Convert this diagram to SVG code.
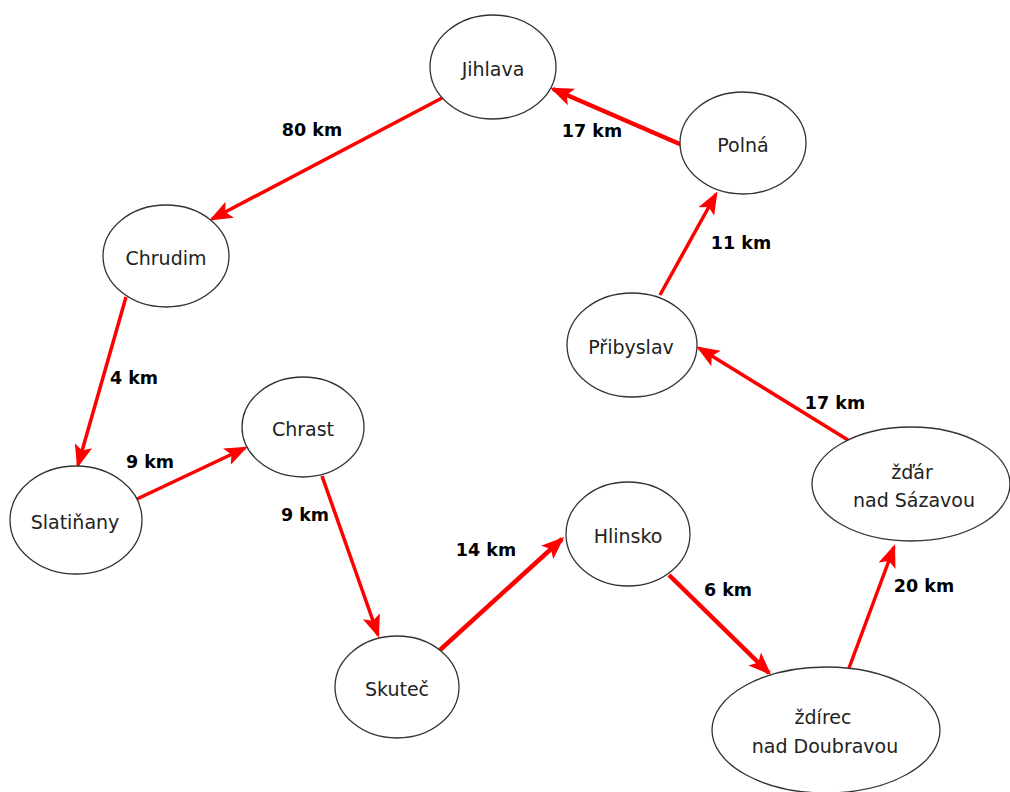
<svg xmlns="http://www.w3.org/2000/svg" width="1010" height="792" viewBox="0 0 1010 792">
<style>
.node ellipse{fill:#fff;stroke:#333;stroke-width:1.3}
.node text{font-family:"DejaVu Sans",Verdana,sans-serif;font-size:19px;fill:#222;text-anchor:middle;dominant-baseline:central}
.edge{stroke:#ff0000;stroke-width:3.5;fill:none;marker-end:url(#ah)}
.thick{stroke-width:4.5}
.lbl{font-family:"DejaVu Sans",Verdana,sans-serif;font-size:17.5px;font-weight:bold;fill:#000;text-anchor:middle;dominant-baseline:central}
</style>
<defs>
<marker id="ah" markerUnits="userSpaceOnUse" markerWidth="24" markerHeight="20" viewBox="0 0 24 20" refX="20" refY="10" orient="auto">
<path d="M0,1 L23,10 L0,19 L5,10 Z" fill="#ff0000"/>
</marker>
</defs>
<rect width="1010" height="792" fill="#fff"/>
<g id="connectors">
<line class="edge" x1="442" y1="98" x2="212" y2="219"/>
<line class="edge thick" x1="682" y1="145" x2="553" y2="89"/>
<line class="edge" x1="660" y1="295" x2="716" y2="194"/>
<line class="edge" x1="126" y1="297" x2="78" y2="465"/>
<line class="edge" x1="137" y1="499" x2="245" y2="448"/>
<line class="edge" x1="322" y1="476" x2="378" y2="635"/>
<line class="edge thick" x1="440" y1="650" x2="562" y2="539"/>
<line class="edge thick" x1="669" y1="575" x2="769" y2="673"/>
<line class="edge" x1="849" y1="668" x2="894" y2="547"/>
<line class="edge" x1="848" y1="440" x2="699" y2="348"/>
<text class="lbl" x="312" y="130">80 km</text>
<text class="lbl" x="592" y="131">17 km</text>
<text class="lbl" x="741" y="243">11 km</text>
<text class="lbl" x="134" y="378">4 km</text>
<text class="lbl" x="150" y="462">9 km</text>
<text class="lbl" x="305" y="515">9 km</text>
<text class="lbl" x="486" y="550">14 km</text>
<text class="lbl" x="728" y="590">6 km</text>
<text class="lbl" x="924" y="586">20 km</text>
<text class="lbl" x="835" y="403">17 km</text>
</g>
<g id="jihlava" class="node"><ellipse cx="493" cy="67" rx="63" ry="52"/><text x="493" y="69">Jihlava</text></g>
<g id="polna" class="node"><ellipse cx="743" cy="143" rx="63" ry="51"/><text x="743" y="145">Polná</text></g>
<g id="chrudim" class="node"><ellipse cx="166" cy="256" rx="63" ry="51"/><text x="166" y="258">Chrudim</text></g>
<g id="pribyslav" class="node"><ellipse cx="632" cy="345" rx="65" ry="52"/><text x="631" y="347">Přibyslav</text></g>
<g id="chrast" class="node"><ellipse cx="303" cy="427" rx="61" ry="50"/><text x="303" y="429">Chrast</text></g>
<g id="slatinany" class="node"><ellipse cx="76" cy="520" rx="66" ry="54"/><text x="75" y="522">Slatiňany</text></g>
<g id="zdar" class="node"><ellipse cx="911" cy="484" rx="99" ry="57"/><text x="912" y="472">žďár</text><text x="914" y="500">nad Sázavou</text></g>
<g id="hlinsko" class="node"><ellipse cx="628" cy="534" rx="62" ry="52"/><text x="628" y="536">Hlinsko</text></g>
<g id="skutec" class="node"><ellipse cx="397" cy="687" rx="62" ry="51"/><text x="397" y="689">Skuteč</text></g>
<g id="zdirec" class="node"><ellipse cx="826" cy="730" rx="114" ry="63"/><text x="823" y="717">ždírec</text><text x="825" y="746">nad Doubravou</text></g>
</svg>
